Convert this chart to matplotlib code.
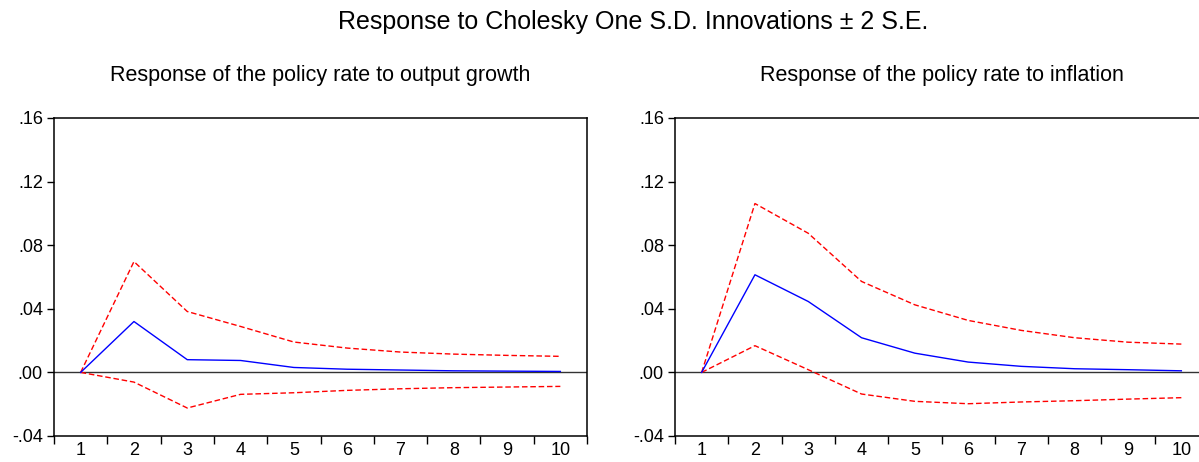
import numpy as np
import matplotlib.pyplot as plt
from matplotlib.ticker import FuncFormatter, FixedLocator

plt.rcParams['font.family'] = ['Liberation Sans', 'DejaVu Sans']

periods = [1, 2, 3, 4, 5, 6, 7, 8, 9, 10]

# Respuesta a crecimiento del producto
growth_resp = [0.0, 0.032, 0.008, 0.0075, 0.0031, 0.002, 0.0015, 0.001, 0.0008, 0.0006]
growth_upper = [0.0, 0.0697, 0.0383, 0.0289, 0.0191, 0.0153, 0.0128, 0.0115, 0.0107, 0.0101]
growth_lower = [0.0, -0.0061, -0.0224, -0.0138, -0.0128, -0.0113, -0.0103, -0.0096, -0.0092, -0.0088]

# Respuesta a inflación
infl_resp = [0.0, 0.0614, 0.0446, 0.0218, 0.0121, 0.0065, 0.0038, 0.0023, 0.0017, 0.001]
infl_upper = [0.0, 0.1062, 0.0875, 0.0572, 0.0425, 0.0327, 0.0264, 0.0218, 0.019, 0.0178]
infl_lower = [0.0, 0.0168, 0.0017, -0.0136, -0.0182, -0.0197, -0.0186, -0.0178, -0.0168, -0.0159]

titles = ["Response of the policy rate to output growth",
          "Response of the policy rate to inflation"]
yticks = [-0.04, 0.0, 0.04, 0.08, 0.12, 0.16]

fig = plt.figure(figsize=(11.99, 4.62), dpi=100)
ax1 = fig.add_axes([54 / 1199, 1 - 436 / 462, 533 / 1199, 318 / 462])
ax2 = fig.add_axes([675 / 1199, 1 - 436 / 462, 533 / 1199, 318 / 462])


def fmt(v, pos):
    s = f"{v:.2f}"
    return s.replace("0.", ".", 1)


for ax, resp, up, lo, title in [(ax1, growth_resp, growth_upper, growth_lower, titles[0]),
                                (ax2, infl_resp, infl_upper, infl_lower, titles[1])]:
    ax.axhline(0, color='#333333', lw=1.0, zorder=1)
    ax.plot(periods, up, color='#ff0000', lw=1.0, ls=(0, (4, 2)))
    ax.plot(periods, lo, color='#ff0000', lw=1.0, ls=(0, (4, 2)))
    ax.plot(periods, resp, color='#0000ff', lw=1.0)
    ax.set_xlim(0.5, 10.5)
    ax.set_ylim(-0.04, 0.16)
    ax.set_yticks(yticks)
    ax.yaxis.set_major_formatter(FuncFormatter(fmt))
    ax.xaxis.set_major_locator(FixedLocator(np.arange(0.5, 11, 1)))
    ax.xaxis.set_major_formatter(FuncFormatter(lambda v, p: ""))
    ax.xaxis.set_minor_locator(FixedLocator(periods))
    ax.xaxis.set_minor_formatter(FuncFormatter(lambda v, p: f"{int(round(v))}"))
    ax.tick_params(axis='x', which='major', direction='out', length=6, width=1)
    ax.tick_params(axis='x', which='minor', length=0, labelsize=13, pad=4)
    ax.tick_params(axis='y', direction='out', length=5, width=1, labelsize=13, pad=3)
    for sp in ax.spines.values():
        sp.set_linewidth(1.1)
    ax.set_title(title, fontsize=15.5, pad=27)

fig.text(633 / 1199, 1 - 22 / 462, "Response to Cholesky One S.D. Innovations ± 2 S.E.",
         ha='center', va='center', fontsize=18)

plt.savefig('out.png', dpi=100)
